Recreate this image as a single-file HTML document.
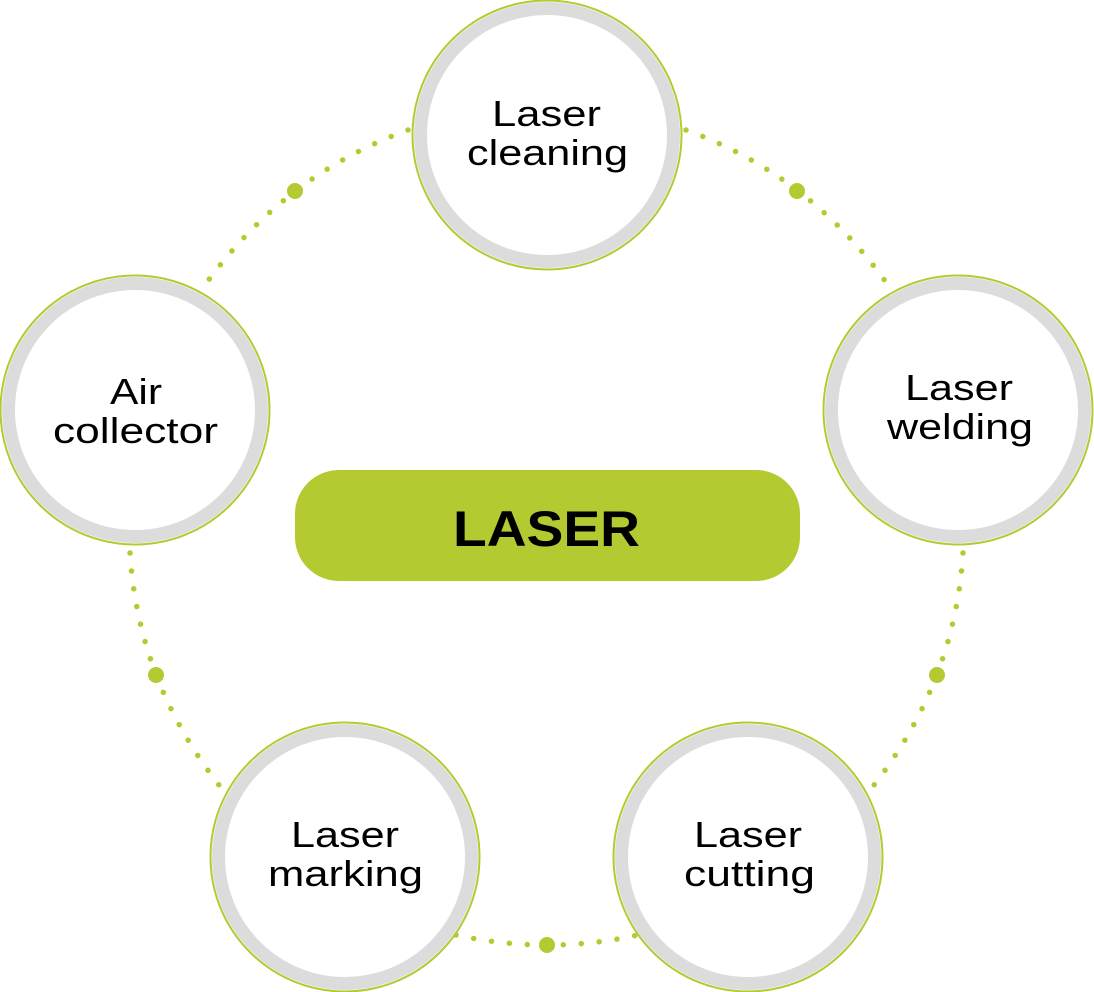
<!DOCTYPE html>
<html><head><meta charset="utf-8"><style>
html,body{margin:0;padding:0;background:#fff;}
svg{display:block}
text{font-family:"Liberation Sans",sans-serif;}
</style></head><body>
<svg width="1094" height="992" viewBox="0 0 1094 992">
<g fill="none" stroke="#b5c931" stroke-width="5.5" stroke-linecap="round" stroke-dasharray="0 18">
<path d="M408 130 Q284 175 205 285"/>
<path d="M686 130 Q810 175 888 285"/>
<path d="M130 553 Q138 681 219 785"/>
<path d="M963 553 Q955 681 874 785"/>
<path d="M456 935 Q548 955 638 935"/>
</g>
<g fill="#b5c931">
<circle cx="295" cy="191" r="8"/>
<circle cx="797" cy="191" r="8"/>
<circle cx="156" cy="675" r="8"/>
<circle cx="937" cy="675" r="8"/>
<circle cx="547" cy="945" r="8"/>
</g>
<g>
<g transform="translate(547,135)"><circle r="134.5" fill="#fff" stroke="#b5c931" stroke-width="2"/><circle r="126.5" fill="#fff" stroke="#dcdcdc" stroke-width="13"/></g>
<g transform="translate(135,410)"><circle r="134.5" fill="#fff" stroke="#b5c931" stroke-width="2"/><circle r="126.5" fill="#fff" stroke="#dcdcdc" stroke-width="13"/></g>
<g transform="translate(958,410)"><circle r="134.5" fill="#fff" stroke="#b5c931" stroke-width="2"/><circle r="126.5" fill="#fff" stroke="#dcdcdc" stroke-width="13"/></g>
<g transform="translate(345,857)"><circle r="134.5" fill="#fff" stroke="#b5c931" stroke-width="2"/><circle r="126.5" fill="#fff" stroke="#dcdcdc" stroke-width="13"/></g>
<g transform="translate(748,857)"><circle r="134.5" fill="#fff" stroke="#b5c931" stroke-width="2"/><circle r="126.5" fill="#fff" stroke="#dcdcdc" stroke-width="13"/></g>
</g>
<g font-size="36" fill="#000" lengthAdjust="spacingAndGlyphs">
<text x="492" y="126" textLength="109" lengthAdjust="spacingAndGlyphs">Laser</text><text x="467" y="165" textLength="161" lengthAdjust="spacingAndGlyphs">cleaning</text>
<text x="110" y="404" textLength="52" lengthAdjust="spacingAndGlyphs">Air</text><text x="53" y="443" textLength="165" lengthAdjust="spacingAndGlyphs">collector</text>
<text x="905" y="400" textLength="108" lengthAdjust="spacingAndGlyphs">Laser</text><text x="887" y="439" textLength="146" lengthAdjust="spacingAndGlyphs">welding</text>
<text x="291" y="847" textLength="108" lengthAdjust="spacingAndGlyphs">Laser</text><text x="268" y="886" textLength="155" lengthAdjust="spacingAndGlyphs">marking</text>
<text x="694" y="847" textLength="108" lengthAdjust="spacingAndGlyphs">Laser</text><text x="684" y="886" textLength="131" lengthAdjust="spacingAndGlyphs">cutting</text>
</g>
<rect x="295" y="470" width="505" height="111" rx="44" fill="#b5c931"/>
<text x="453" y="546" font-size="50" font-weight="bold" fill="#000" textLength="187" lengthAdjust="spacingAndGlyphs">LASER</text>
</svg>
</body></html>
